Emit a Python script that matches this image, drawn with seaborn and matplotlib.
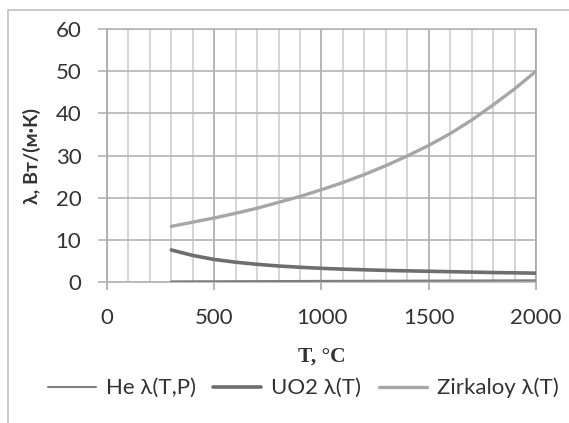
import numpy as np
import pandas as pd
import matplotlib
matplotlib.use("Agg")
import matplotlib.pyplot as plt
from matplotlib.lines import Line2D
from matplotlib.ticker import MultipleLocator
import seaborn as sns

# Temperature grid, °C
temperature = [300, 400, 500, 600, 700, 800, 900, 1000, 1100, 1200,
               1300, 1400, 1500, 1600, 1700, 1800, 1900, 2000]

# Thermal conductivity, W/(m·K)
he_lambda = [0.15, 0.17, 0.18, 0.20, 0.21, 0.23, 0.24, 0.26, 0.27, 0.29,
             0.30, 0.32, 0.33, 0.35, 0.36, 0.37, 0.39, 0.40]
uo2_lambda = [7.6, 6.3, 5.35, 4.7, 4.2, 3.8, 3.5, 3.25, 3.05, 2.9,
              2.75, 2.65, 2.55, 2.45, 2.35, 2.25, 2.18, 2.1]
zr_lambda = [13.2, 14.2, 15.2, 16.3, 17.5, 18.9, 20.3, 21.9, 23.6, 25.5,
             27.6, 29.9, 32.4, 35.2, 38.4, 42.0, 45.8, 50.0]

series_names = ["He λ(T,P)", "UO2 λ(T)", "Zirkaloy λ(T)"]
series_colors = ["#7f7f7f", "#6e6e6e", "#a6a6a6"]
series_widths = [1.5, 2.6, 2.4]

x_ticks = [0, 500, 1000, 1500, 2000]
y_ticks = [0, 10, 20, 30, 40, 50, 60]

sns.set_theme(style="white")
plt.rcParams["font.family"] = ["Lato", "DejaVu Sans"]

df = pd.DataFrame({
    "T": temperature * 3,
    "lam": he_lambda + uo2_lambda + zr_lambda,
    "series": [series_names[0]] * len(temperature)
              + [series_names[1]] * len(temperature)
              + [series_names[2]] * len(temperature),
})

fig = plt.figure(figsize=(5.69, 4.23), dpi=100)
ax = fig.add_axes([0.188, 0.3333, 0.754, 0.598])

for name, color, lw in zip(series_names, series_colors, series_widths):
    sub = df[df["series"] == name]
    sns.lineplot(data=sub, x="T", y="lam", ax=ax, color=color,
                 linewidth=lw, label=name, legend=False, zorder=3)

ax.set_xlim(0, 2000)
ax.set_ylim(0, 60)
ax.set_xticks(x_ticks)
ax.set_yticks(y_ticks)
ax.xaxis.set_minor_locator(MultipleLocator(100))

ax.grid(which="minor", axis="x", color="#d2d2d2", linewidth=1.3, zorder=0)
ax.grid(which="major", axis="x", color="#a9a9a9", linewidth=1.2, zorder=1)
ax.grid(which="major", axis="y", color="#b4b4b4", linewidth=1.2, zorder=1)
ax.set_axisbelow(True)

for side in ["top", "right", "left", "bottom"]:
    ax.spines[side].set_color("#b4b4b4")
    ax.spines[side].set_linewidth(1.2)
ax.spines["left"].set_color("#a9a9a9")
ax.spines["right"].set_color("#a9a9a9")

ax.tick_params(axis="x", which="major", direction="out", length=6,
               width=1.2, color="#a9a9a9", pad=13, labelsize=16,
               labelcolor="#333333", bottom=True)
ax.tick_params(axis="x", which="minor", length=0)
ax.tick_params(axis="y", which="major", direction="out", length=6.5,
               width=1.2, color="#b4b4b4", pad=12, labelsize=16,
               labelcolor="#333333", left=True)

ax.set_xlabel("T, °C", fontsize=15.5, fontweight="bold",
              family="Liberation Serif", color="#333333")
ax.set_ylabel("λ, Вт/(м·К)", fontsize=14, fontweight="bold", color="#333333")
ax.xaxis.set_label_coords(0.5, -0.296)
ax.yaxis.set_label_coords(-0.175, 0.5)
ax.xaxis.label.set_va("center")
ax.yaxis.label.set_va("center")

handles = [Line2D([], [], color=c, linewidth=w)
           for c, w in zip(series_colors, series_widths)]
fig.legend(handles, series_names, loc="center",
           bbox_to_anchor=(0.533, 0.0827), ncol=3, frameon=False,
           fontsize=16, handlelength=2.16, handletextpad=0.45,
           columnspacing=0.77, labelcolor="#333333")

# chart-area border
fig.add_artist(Line2D([8 / 569, 8 / 569], [0, 1 - 10 / 423],
                      transform=fig.transFigure, color="#c0c0c0", linewidth=1.2))
fig.add_artist(Line2D([8 / 569, 1], [1 - 10 / 423, 1 - 10 / 423],
                      transform=fig.transFigure, color="#c0c0c0", linewidth=1.2))

fig.savefig("out.png", dpi=100)
